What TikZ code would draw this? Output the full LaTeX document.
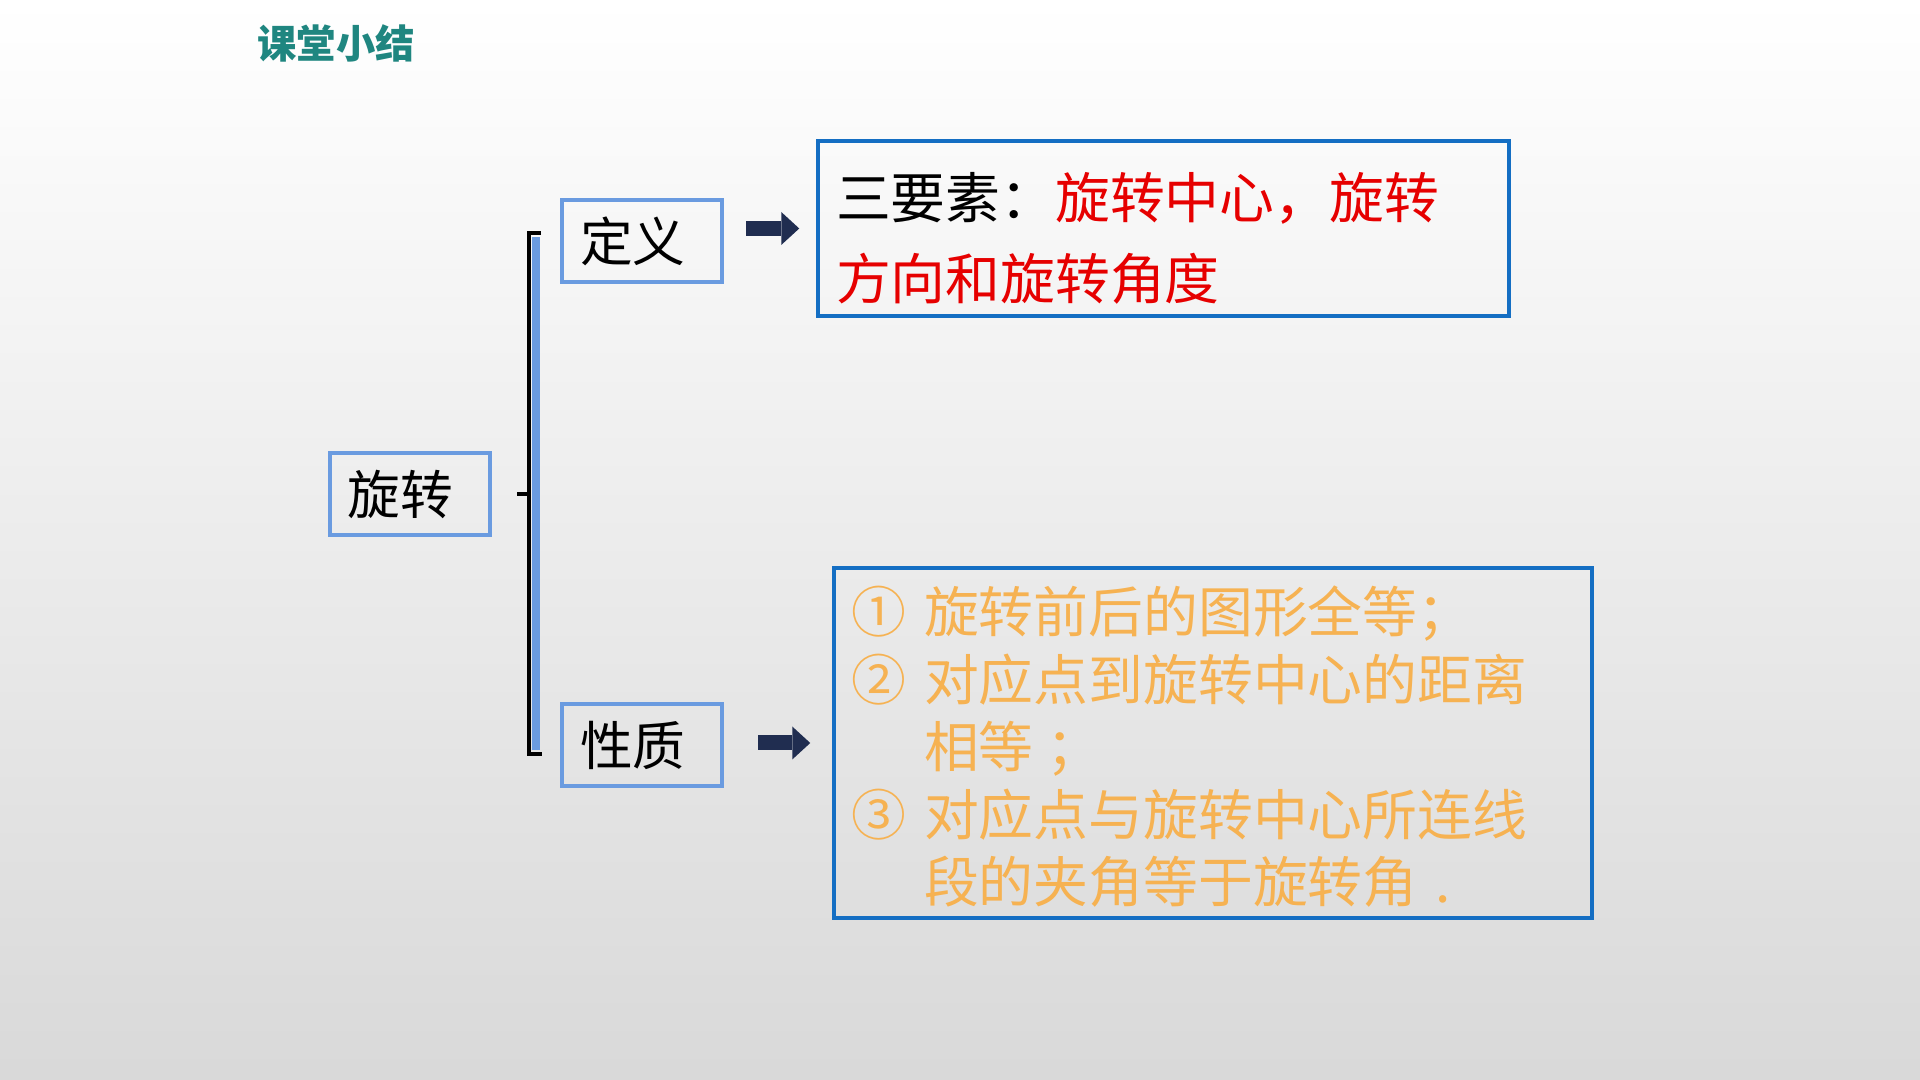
\documentclass[tikz,border=0pt]{standalone}
\usepackage{fontspec}
\setmainfont{Noto Sans CJK SC}
\usetikzlibrary{calc,arrows.meta}
\definecolor{titleteal}{RGB}{31,134,128}
\definecolor{lightframe}{RGB}{106,155,224}
\definecolor{darkframe}{RGB}{20,110,195}
\definecolor{arrownavy}{RGB}{32,45,80}
\definecolor{keyred}{RGB}{230,0,0}
\definecolor{propgold}{RGB}{246,178,82}

\begin{document}
\begin{tikzpicture}
    \tikzset{
        smallbox/.style={draw=lightframe, line width=0.4mm, text width=1.24cm, inner xsep=0.18cm,
            minimum height=0.82cm, align=left, font=\fontsize{15pt}{18pt}\selectfont},
        bigbox/.style={draw=darkframe, line width=0.35mm, align=left, inner ysep=0pt},
        fatarrow/.style={draw=arrownavy, line width=1.5mm,
            -{Triangle[length=1.8mm,width=3.3mm,line width=0pt]}},
    }
    % background
    \shade[top color=white, bottom color=black!15] (0,0) rectangle (19.2,10.8);
    \node[text=titleteal, font=\fontsize{11.2pt}{13pt}\selectfont\bfseries] (title) at (3.36,10.37) {课堂小结};

    \node[smallbox] (rot) at (4.095,5.86) {旋转};
    \node[smallbox] (def) at (6.42,8.39) {定义};
    \node[smallbox] (prop) at (6.42,3.35) {性质};

    \node[bigbox, text width=6.55cm, inner xsep=0.18cm, text height=7.8mm, text depth=9.7mm,
        font=\fontsize{15.6pt}{23pt}\selectfont] (defbox) at (11.635,8.515)
        {三要素：\textcolor{keyred}{旋转中心，旋转}\\\textcolor{keyred}{方向和旋转角度}};
    \node[bigbox, text width=7.24cm, inner xsep=0.17cm, text height=6.5mm, text depth=28.5mm, text=propgold,
        font=\fontsize{15.6pt}{19.2pt}\selectfont] (propbox) at (12.13,3.37)
        {① 旋转前后的图形全等；\\② 对应点到旋转中心的距离\\\phantom{② }相等\hspace{0.24em}；\\
         ③ 对应点与旋转中心所连线\\\phantom{③ }段的夹角等于旋转角 .};

    % bracket
    \coordinate (brtop) at (5.29,8.47);
    \coordinate (brbot) at (5.29,3.26);
    \coordinate (brmid) at (5.29,5.86);
    \fill[lightframe] (5.32,3.30) rectangle (5.40,8.43);
    \draw[line width=0.4mm] ($(brtop)+(0.12,0)$) -- (brtop) -- (brbot) -- ($(brbot)+(0.13,0)$);
    \draw[line width=0.4mm] (brmid) -- ($(brmid)+(-0.12,0)$);

    \draw[fatarrow] ($(def.east |- defbox.west)+(0.22,0)$) -- ($(defbox.west)+(-0.17,0)$);
    \draw[fatarrow] ($(prop.east |- propbox.west)+(0.34,0)$) -- ($(propbox.west)+(-0.22,0)$);
\end{tikzpicture}
\end{document}
